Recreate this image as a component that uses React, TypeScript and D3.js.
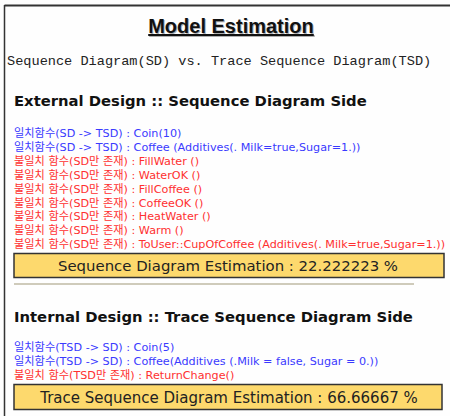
import React from "react";
import * as d3 from "d3";

const title = "Model Estimation";
const subtitle = "Sequence Diagram(SD) vs. Trace Sequence Diagram(TSD)";

const sdHeading = "External Design :: Sequence Diagram Side";
const sdMatchedPrefix = "일치함수(SD -> TSD) : ";
const sdUnmatchedPrefix = "불일치 함수(SD만 존재) : ";
const sdMatched = ["Coin(10)", "Coffee (Additives(. Milk=true,Sugar=1.))"];
const sdUnmatched = [
  "FillWater ()",
  "WaterOK ()",
  "FillCoffee ()",
  "CoffeeOK ()",
  "HeatWater ()",
  "Warm ()",
  "ToUser::CupOfCoffee (Additives(. Milk=true,Sugar=1.))",
];
const sdEstimationLabel = "Sequence Diagram Estimation";
const sdEstimation = 22.222223;

const tsdHeading = "Internal Design :: Trace Sequence Diagram Side";
const tsdMatchedPrefix = "일치함수(TSD -> SD) : ";
const tsdUnmatchedPrefix = "불일치 함수(TSD만 존재) : ";
const tsdMatched = ["Coin(5)", "Coffee(Additives (.Milk = false, Sugar = 0.))"];
const tsdUnmatched = ["ReturnChange()"];
const tsdEstimationLabel = "Trace Sequence Diagram Estimation";
const tsdEstimation = 66.66667;

const W = 450;
const H = 416;
const BLUE = "#3a3aff";
const RED = "#ff3030";
const LINE_FONT = "'DejaVu Sans', 'Noto Sans CJK KR', sans-serif";

export default function App() {
  const sdRows = [
    ...sdMatched.map((t) => ({ text: sdMatchedPrefix + t, color: BLUE })),
    ...sdUnmatched.map((t) => ({ text: sdUnmatchedPrefix + t, color: RED })),
  ];
  const tsdRows = [
    ...tsdMatched.map((t) => ({ text: tsdMatchedPrefix + t, color: BLUE })),
    ...tsdUnmatched.map((t) => ({ text: tsdUnmatchedPrefix + t, color: RED })),
  ];
  const rowStep = 13.9;
  const ySd = d3.scaleLinear().domain([0, 1]).range([137, 137 + rowStep]);
  const yTsd = d3.scaleLinear().domain([0, 1]).range([351, 351 + rowStep]);

  return (
    <svg
      width={W}
      height={H}
      style={{ position: "absolute", left: 0, top: 0, background: "#fefefe" }}
    >
      <rect x={0} y={0} width={W} height={H} fill="#fefefe" />
      {/* frame */}
      <line x1={4.5} y1={5.5} x2={W} y2={5.5} stroke="#333" strokeWidth={2} />
      <line x1={4.5} y1={5} x2={4.5} y2={H} stroke="#333" strokeWidth={1.5} />

      {/* title with shadow */}
      <g fontFamily="'Liberation Sans', Arial, sans-serif" fontWeight="bold" fontSize={20}>
        <text x={232} y={34} textAnchor="middle" fill="#b0b0b0" textDecoration="underline">
          {title}
        </text>
        <text x={231} y={33} textAnchor="middle" fill="#111" textDecoration="underline">
          {title}
        </text>
      </g>

      <text
        x={7}
        y={65}
        fontFamily="'Liberation Mono', 'Courier New', monospace"
        fontSize={13.6}
        fill="#222"
      >
        {subtitle}
      </text>

      {/* SD section */}
      <text x={14} y={106} fontFamily="'DejaVu Sans', sans-serif" fontWeight="bold" fontSize={14.8} fill="#111">
        {sdHeading}
      </text>
      {sdRows.map((r, i) => (
        <text key={i} x={14} y={ySd(i)} fontFamily={LINE_FONT} fontSize={11.2} fill={r.color}>
          {r.text}
        </text>
      ))}
      <rect x={14} y={253.5} width={430} height={24} fill="#fdd96d" stroke="#333" strokeWidth={1.5} />
      <text x={228} y={270.5} textAnchor="middle" fontFamily="'DejaVu Sans', sans-serif" fontSize={14.9} fill="#222">
        {`${sdEstimationLabel} : ${sdEstimation} %`}
      </text>
      <line x1={14} y1={284} x2={414} y2={284} stroke="#cfcbbb" strokeWidth={2} />

      {/* TSD section */}
      <text x={14} y={322} fontFamily="'DejaVu Sans', sans-serif" fontWeight="bold" fontSize={14.8} fill="#111">
        {tsdHeading}
      </text>
      {tsdRows.map((r, i) => (
        <text key={i} x={14} y={yTsd(i)} fontFamily={LINE_FONT} fontSize={11.2} fill={r.color}>
          {r.text}
        </text>
      ))}
      <rect x={14} y={384.5} width={428} height={25} fill="#fdd96d" stroke="#333" strokeWidth={1.5} />
      <text x={229} y={403} textAnchor="middle" fontFamily="'DejaVu Sans', sans-serif" fontSize={15} fill="#222">
        {`${tsdEstimationLabel} : ${tsdEstimation} %`}
      </text>
    </svg>
  );
}
